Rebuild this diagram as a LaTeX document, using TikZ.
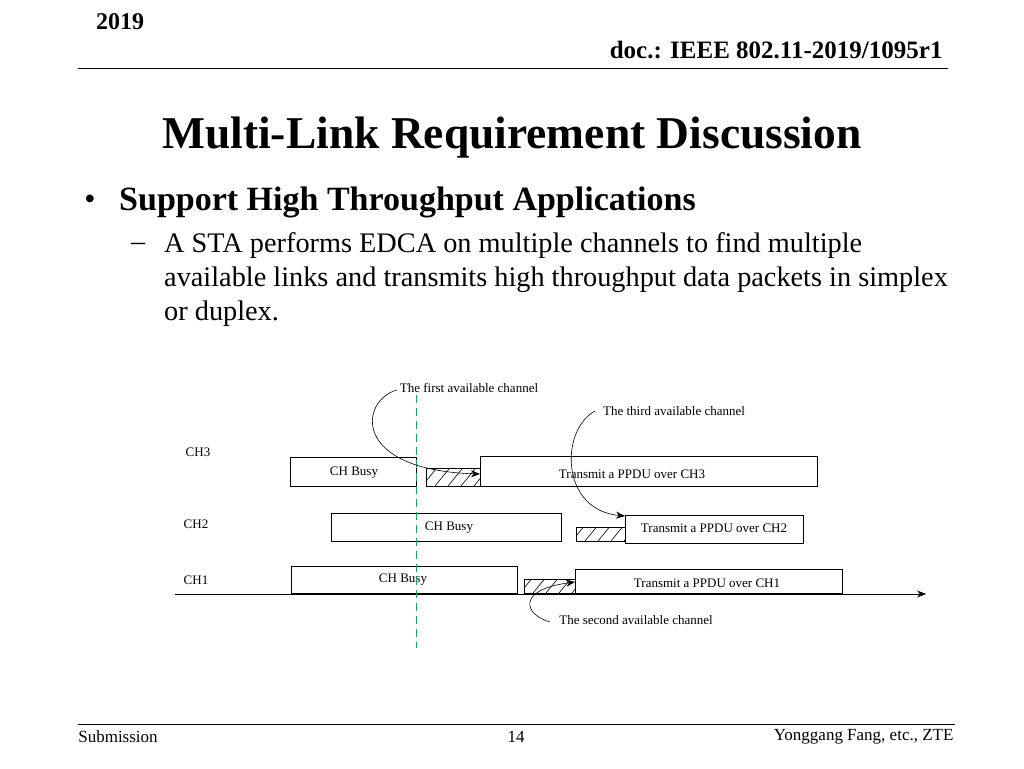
\documentclass[tikz,border=0pt]{standalone}
\usepackage{fontspec}
\setmainfont{Liberation Serif}
\usetikzlibrary{arrows.meta}
\begin{document}
\begin{tikzpicture}[x=1pt,y=-1pt,
 box/.style={draw,semithick,fill=white,inner sep=0},
 small/.style={font=\fontsize{13}{14}\selectfont,inner sep=0},
 call/.style={-{Stealth[length=9pt,width=7pt]},semithick}]
\useasboundingbox (0,0) rectangle (1024,768);
\newcommand{\hatchbox}[4]{\draw[semithick] (#1,#2) rectangle (#3,#4);
 \begin{scope} \clip (#1,#2) rectangle (#3,#4);
 \foreach \k in {0,1,2,3,4,5} {\draw[semithick] ({#1+\k*13-4},#4) -- ++(18,-22);}
 \end{scope}}
% header
\node[font=\bfseries\fontsize{24}{26}\selectfont] (yr) at (120,22) {2019};
\node[font=\bfseries\fontsize{25}{27}\selectfont,anchor=east] (doc) at (946,50) {doc.: IEEE 802.11-2019/1095r1};
\draw[thick] (78,68) -- (948,68);
\node[font=\bfseries\fontsize{45.5}{48}\selectfont] (title) at (512,138) {Multi-Link Requirement Discussion};
\node[font=\fontsize{32}{34}\selectfont] (b1) at (90,202) {•};
\node[font=\bfseries\fontsize{34}{36}\selectfont,anchor=west,inner sep=0] (t1) at (119,202) {Support High Throughput Applications};
\node[font=\fontsize{28}{30}\selectfont,anchor=west,inner sep=0] (d1) at (131,247) {–};
\node[font=\fontsize{28.3}{34}\selectfont,anchor=north west,inner sep=0,align=left] (t2) at (164,232) {A STA performs EDCA on multiple channels to find multiple\\available links and transmits high throughput data packets in simplex\\or duplex.};
% diagram
\draw[-{Stealth[length=9pt,width=7pt]},semithick] (175,594) -- (926,594);
\node[small] (c3) at (198,452) {CH3};
\node[small] (c2) at (196,524) {CH2};
\node[small] (c1) at (196,580) {CH1};
% CH3
\draw[box] (290,457) rectangle (416,486); \node[small] (b3) at (354,473) {CH Busy};
\hatchbox{426}{468}{480}{486}
\draw[box] (480,456) rectangle (817,486); \node[small] (x3) at (632,474) {Transmit a PPDU over CH3};
% CH2
\draw[box] (331,513) rectangle (561,541); \node[small] (b2) at (449,528) {CH Busy};
\hatchbox{576}{527}{625}{541}
\draw[box] (625,515) rectangle (803,543); \node[small] (x2) at (714,528) {Transmit a PPDU over CH2};
% CH1
\draw[box] (291,566) rectangle (517,593); \node[small] (b1b) at (403,580) {CH Busy};
\hatchbox{524}{579}{575}{593}
\draw[box] (575,569) rectangle (842,593); \node[small] (x1) at (707,583) {Transmit a PPDU over CH1};
% green line
\draw[thick,color={rgb,255:red,30;green,160;blue,90},dash pattern=on 8pt off 5pt] (416,395) -- (416,648);
% callouts
\node[small] (l1) at (469,388) {The first available channel};
\node[small] (l3) at (674,411) {The third available channel};
\node[small] (l2) at (636,620) {The second available channel};
\coordinate (a1) at (480,474);
\coordinate (a3) at (625,516);
\coordinate (a2) at (575,582);
\draw[call] (397,390) .. controls (360,400) and (350,470) .. (a1);
\draw[call] (595,411) .. controls (560,430) and (560,510) .. (a3);
\draw[call] (550,622) .. controls (525,615) and (515,590) .. (a2);
% footer
\draw[thick] (78,724) -- (955,724);
\node[font=\fontsize{17}{19}\selectfont] (sub) at (118,737) {Submission};
\node[font=\fontsize{17}{19}\selectfont] (pg) at (516,737) {14};
\node[font=\fontsize{17}{19}\selectfont,anchor=east] (au) at (957,737) {Yonggang Fang, etc., ZTE};
\end{tikzpicture}
\end{document}
